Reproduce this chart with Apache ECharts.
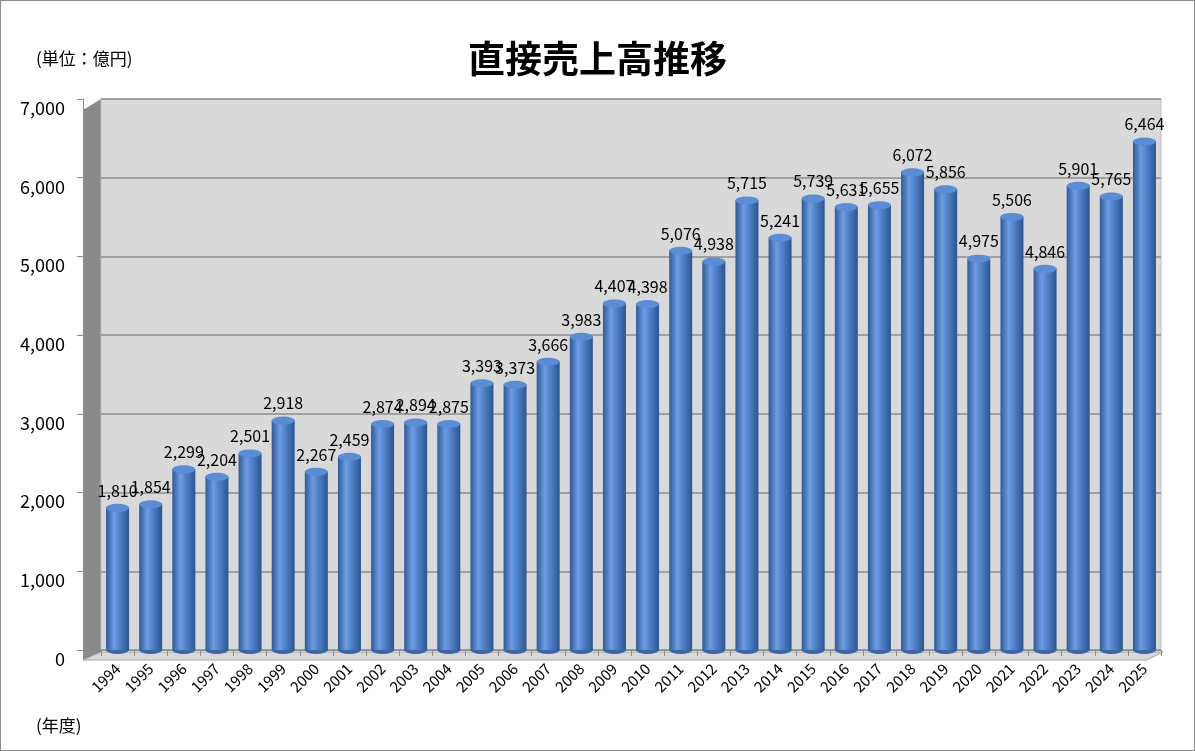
<!DOCTYPE html>
<html>
<head>
<meta charset="utf-8">
<script src="https://cdn.jsdelivr.net/npm/echarts@6/dist/echarts.min.js"></script>
<style>
  html, body { margin: 0; padding: 0; background: #fff; }
  #chart { width: 1195px; height: 751px; box-sizing: border-box; border: 1px solid #8c8c8c; }
</style>
</head>
<body>
<div id="chart"></div>
<script>
// 年度
const years = ['1994','1995','1996','1997','1998','1999','2000','2001','2002','2003','2004',
  '2005','2006','2007','2008','2009','2010','2011','2012','2013','2014','2015','2016','2017',
  '2018','2019','2020','2021','2022','2023','2024','2025'];
// 直接売上高（億円）
const sales = [1810, 1854, 2299, 2204, 2501, 2918, 2267, 2459, 2874, 2894, 2875,
  3393, 3373, 3666, 3983, 4407, 4398, 5076, 4938, 5715, 5241, 5739, 5631, 5655,
  6072, 5856, 4975, 5506, 4846, 5901, 5765, 6464];
const yTicks = [0, 1000, 2000, 3000, 4000, 5000, 6000, 7000];

const font = '"Noto Sans CJK JP", "Noto Sans", sans-serif';
const fmt = v => v.toLocaleString('en-US');

const chart = echarts.init(document.getElementById('chart'));

const cylinder = new echarts.graphic.LinearGradient(0, 0, 1, 0, [
  { offset: 0, color: '#2f5a98' },
  { offset: 0.35, color: '#6d9ce2' },
  { offset: 0.6, color: '#4f80c8' },
  { offset: 1, color: '#2c5590' }
]);

chart.setOption({
  animation: false,
  title: {
    text: '直接売上高推移',
    left: 'center',
    top: 34,
    textStyle: { fontFamily: font, fontSize: 37, fontWeight: 'bold', color: '#000' }
  },
  graphic: [
    { type: 'text', left: 35, top: 49,
      style: { text: '(単位：億円)', fontSize: 17, fontFamily: font, fill: '#000' } },
    { type: 'text', left: 35, top: 716,
      style: { text: '(年度)', fontSize: 17, fontFamily: font, fill: '#000' } },
    // 左側の壁
    { type: 'polygon', z: -1, shape: { points: [[82, 109], [100, 98], [100, 651], [82, 659]] },
      style: { fill: '#8a8a8a' } },
    // 床
    { type: 'polygon', z: -1, shape: { points: [[82, 659], [100, 651], [1162, 651], [1146, 659]] },
      style: { fill: '#d9d9d9', stroke: '#a6a6a6', lineWidth: 1 } }
  ],
  grid: {
    left: 100, right: 33, top: 98, bottom: 100,
    show: true, backgroundColor: '#d9d9d9', borderColor: '#bfbfbf', borderWidth: 1
  },
  xAxis: {
    type: 'category',
    data: years,
    offset: 8,
    axisLine: { lineStyle: { color: '#8c8c8c' } },
    axisTick: { show: true, length: 6, lineStyle: { color: '#8c8c8c' } },
    axisLabel: { rotate: 45, color: '#000', fontSize: 15, fontFamily: font, margin: 8 }
  },
  yAxis: {
    type: 'value',
    min: yTicks[0],
    max: yTicks[yTicks.length - 1],
    interval: 1000,
    offset: 18,
    axisLine: { show: true, lineStyle: { color: '#8c8c8c' } },
    axisTick: { show: true, length: 6, lineStyle: { color: '#8c8c8c' } },
    axisLabel: {
      color: '#000', fontSize: 18, fontFamily: font, margin: 18,
      verticalAlign: 'top', lineHeight: 18,
      formatter: v => fmt(v)
    },
    splitLine: { lineStyle: { color: '#8c8c8c', width: 1.5 } }
  },
  series: [
    {
      type: 'bar',
      data: sales,
      barWidth: 23,
      itemStyle: { color: cylinder },
      z: 2,
      label: {
        show: true,
        position: 'top',
        distance: 9,
        color: '#000',
        fontSize: 16,
        fontFamily: font,
        formatter: p => fmt(p.value)
      }
    },
    {
      type: 'pictorialBar',
      data: sales,
      symbol: 'circle',
      symbolSize: [23, 8],
      symbolPosition: 'end',
      symbolOffset: [0, '-50%'],
      itemStyle: { color: '#5b8dd6', borderColor: '#3c6aae', borderWidth: 1 },
      z: 3,
      silent: true
    },
    {
      type: 'pictorialBar',
      data: sales,
      symbol: 'circle',
      symbolSize: [23, 8],
      symbolPosition: 'start',
      symbolOffset: [0, '50%'],
      itemStyle: { color: '#3a66a6' },
      z: 1,
      silent: true
    }
  ]
});
</script>
</body>
</html>
